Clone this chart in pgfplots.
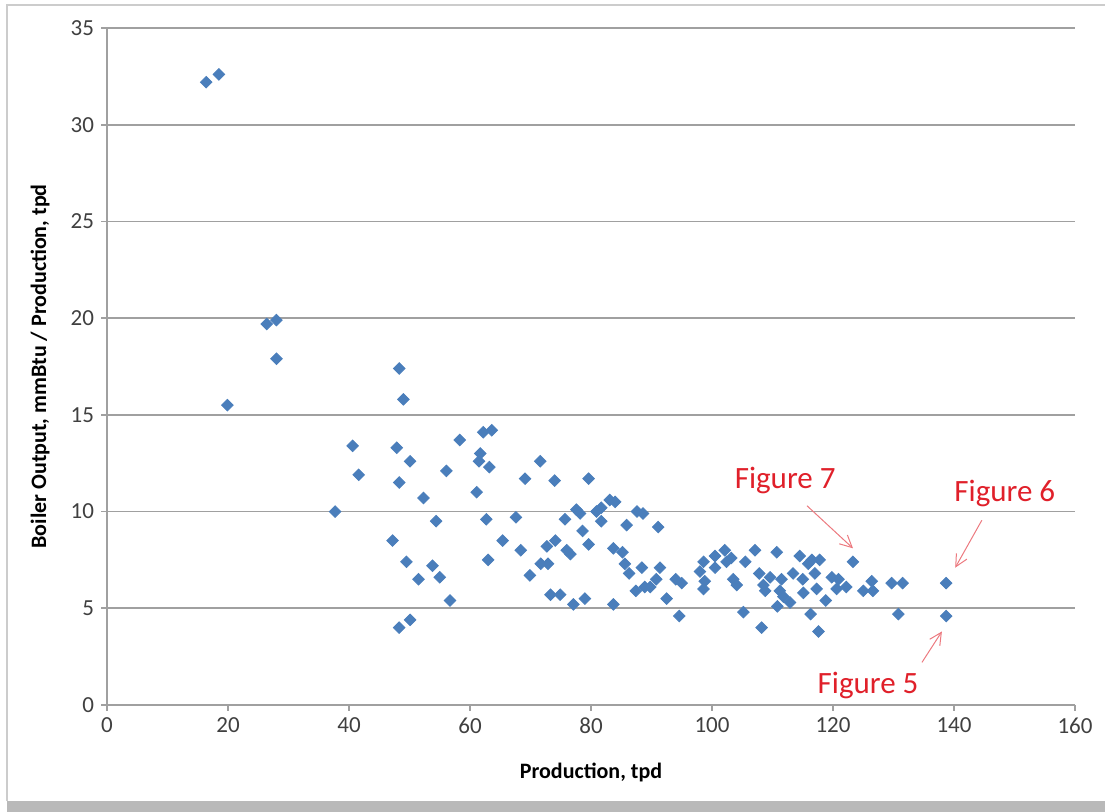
\documentclass[border=0pt]{standalone}
\usepackage{pgfplots}
\pgfplotsset{compat=1.18}
\usepackage{fontspec}
\setmainfont{Carlito}
\usetikzlibrary{arrows.meta}
\definecolor{mk}{HTML}{4A7EBB}
\definecolor{gridc}{HTML}{A0A0A0}
\definecolor{figred}{HTML}{E0202A}
\pgfplotstableread{
x y
16.4 32.2
18.5 32.6
19.9 15.5
26.4 19.7
28.0 19.9
28.0 17.9
37.7 10.0
40.6 13.4
41.6 11.9
47.9 13.3
48.3 17.4
49.0 15.8
48.3 11.5
50.1 12.6
47.2 8.5
49.5 7.4
48.3 4.0
50.1 4.4
51.5 6.5
52.3 10.7
54.4 9.5
53.8 7.2
55.0 6.6
56.7 5.4
56.1 12.1
58.3 13.7
61.5 12.6
61.7 13.0
61.1 11.0
62.2 14.1
63.6 14.2
63.2 12.3
62.7 9.6
63.0 7.5
65.4 8.5
67.6 9.7
68.4 8.0
69.1 11.7
69.9 6.7
71.6 12.6
71.7 7.3
72.9 7.3
72.7 8.2
74.1 8.5
74.0 11.6
73.3 5.7
74.9 5.7
75.7 9.6
76.0 8.0
76.6 7.8
77.1 5.2
77.6 10.1
78.2 9.9
78.6 9.0
79.6 8.3
79.6 11.7
79.0 5.5
80.9 10.0
81.7 10.2
81.7 9.5
83.1 10.6
84.0 10.5
83.7 8.1
85.2 7.9
85.6 7.3
86.3 6.8
83.7 5.2
85.9 9.3
87.6 10.0
88.6 9.9
88.4 7.1
87.4 5.9
88.9 6.1
89.8 6.1
91.1 9.2
91.4 7.1
90.8 6.5
92.5 5.5
94.0 6.5
95.0 6.3
94.6 4.6
98.6 7.4
98.0 6.9
98.8 6.4
98.6 6.0
100.5 7.7
100.5 7.1
102.1 8.0
102.4 7.4
103.2 7.6
103.5 6.5
104.1 6.2
105.5 7.4
105.2 4.8
107.1 8.0
107.8 6.8
108.5 6.2
108.8 5.9
108.2 4.0
109.6 6.6
110.7 7.9
111.5 6.5
111.2 5.9
111.8 5.6
112.9 5.3
110.8 5.1
113.4 6.8
114.5 7.7
115.0 6.5
115.1 5.8
115.9 7.3
116.5 7.5
117.8 7.5
117.0 6.8
117.3 6.0
116.3 4.7
117.6 3.8
118.8 5.4
119.8 6.6
120.9 6.5
120.6 6.0
122.2 6.1
123.3 7.4
125.0 5.9
126.4 6.4
126.6 5.9
129.7 6.3
131.5 6.3
130.8 4.7
138.7 6.3
138.7 4.6
}\pts
\begin{document}
\begin{tikzpicture}
\useasboundingbox (0,0) rectangle (552.5pt,406pt);
\fill[gray!55] (3.5pt,0pt) rectangle (552.5pt,5.5pt);
\draw[gray!40, line width=1pt] (3.5pt,5.5pt) -- (3.5pt,403.5pt) -- (552.5pt,403.5pt);
\begin{axis}[
  at={(53.5pt,53.5pt)}, anchor=south west,
  scale only axis, width=484pt, height=338.5pt,
  xmin=0, xmax=160, ymin=0, ymax=35,
  xtick={0,20,...,160}, ytick={0,5,...,35},
  axis x line=bottom, axis y line=left,
  axis line style={-, draw=gridc, line width=0.8pt},
  ymajorgrids, grid style={draw=gridc, line width=0.8pt},
  tick align=outside, major tick length=3pt,
  tick style={draw=gridc, line width=0.8pt},
  tick label style={font=\fontsize{11.5}{13}\selectfont, text=black!75},
  /pgf/number format/assume math mode=true,
  xlabel={Production, tpd},
  ylabel={Boiler Output, mmBtu / Production, tpd},
  label style={font=\bfseries\fontsize{11}{13}\selectfont},
  xlabel style={at={(axis description cs:0.5,0)}, anchor=center, yshift=-34pt},
  ylabel style={at={(axis description cs:0,0.5)}, anchor=center, yshift=33.5pt},
  clip=false,
]
\addplot[only marks, mark=square*, mark size=2.05pt,
  mark options={rotate=45, fill=mk, draw=mk}] table[x=x, y=y] {\pts};
\node[text=figred, font=\fontsize{15.5}{17}\selectfont] at (axis cs:112.1,11.6) {Figure 7};
\node[text=figred, font=\fontsize{15.5}{17}\selectfont] at (axis cs:148.4,10.95) {Figure 6};
\node[text=figred, font=\fontsize{15.5}{17}\selectfont] at (axis cs:125.8,1.03) {Figure 5};
\draw[figred!60, line width=0.5pt, -{Straight Barb[length=6pt,width=6pt]}] (axis cs:115.7,10.3) -- (axis cs:123.3,8.1);
\draw[figred!60, line width=0.5pt, -{Straight Barb[length=6pt,width=6pt]}] (axis cs:144.6,9.55) -- (axis cs:140.2,7.1);
\draw[figred!60, line width=0.5pt, -{Straight Barb[length=6pt,width=6pt]}] (axis cs:134.7,2.2) -- (axis cs:138.0,3.8);
\end{axis}
\end{tikzpicture}
\end{document}
